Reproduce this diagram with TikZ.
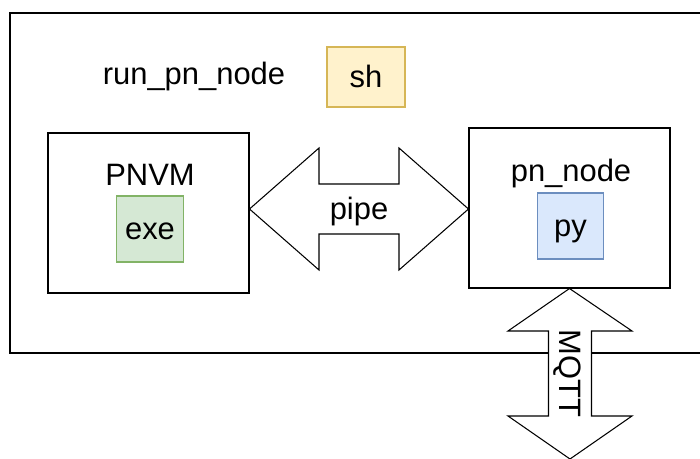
\documentclass[tikz,border=0pt]{standalone}
\usepackage{fontspec}
\setmainfont{Liberation Sans}
\usetikzlibrary{calc}
\definecolor{shfill}{HTML}{FFF2CC}
\definecolor{shdraw}{HTML}{D6B656}
\definecolor{exefill}{HTML}{D5E8D4}
\definecolor{exedraw}{HTML}{82B366}
\definecolor{pyfill}{HTML}{DAE8FC}
\definecolor{pydraw}{HTML}{6C8EBF}
\begin{document}
\begin{tikzpicture}[x=0.02cm, y=-0.02cm, line width=0.6pt,
    every node/.style={font=\fontsize{17.6}{21}\selectfont, text height=15.8pt, text depth=3.5pt},
    box/.style={draw, minimum width=4.02cm, minimum height=3.2cm},
    tag/.style={draw, minimum width=1.33cm, minimum height=1.32cm}]
        \useasboundingbox (0,0) rectangle (700,459);
        \clip (0,0) rectangle (700,459);
        % run_pn_node
        \draw (10,13) rectangle (720,353);
        \node (runlabel) at (194,74) {run\_pn\_node};
        \node [draw=shdraw, fill=shfill, minimum width=1.56cm, minimum height=1.2cm] (sh) at (366,77) {sh};
        % PNVM
        \node [box] (pnvm) at (148.5,213) {};
        \node (pnvmlabel) at (150,175) {PNVM};
        \node [tag, draw=exedraw, fill=exefill] (exe) at (150,229) {exe};
        % pn_node
        \node [box] (pnnode) at (569.5,208) {};
        \node (pnnodelabel) at (571,171) {pn\_node};
        \node [tag, draw=pydraw, fill=pyfill] (py) at (570.5,226) {py};
        % pipe
        \coordinate (pipemid) at (359,209);
        \draw [fill=white] (pnvm.east |- pipemid) -- ($(pipemid)+(-40,-61)$) -- ($(pipemid)+(-40,-25)$)
            -- ($(pipemid)+(40,-25)$) -- ($(pipemid)+(40,-61)$) -- (pnnode.west |- pipemid)
            -- ($(pipemid)+(40,61)$) -- ($(pipemid)+(40,25)$) -- ($(pipemid)+(-40,25)$)
            -- ($(pipemid)+(-40,61)$) -- cycle;
        \node (pipe) at (pipemid) {pipe};
        % MQTT
        \coordinate (mqttmid) at (570,373.5);
        \draw [fill=white] (pnnode.south) -- ($(mqttmid)+(62,-42.5)$) -- ($(mqttmid)+(21.5,-42.5)$)
            -- ($(mqttmid)+(21.5,42.5)$) -- ($(mqttmid)+(62,42.5)$) -- ($(mqttmid)+(0,85.5)$)
            -- ($(mqttmid)+(-62,42.5)$) -- ($(mqttmid)+(-21.5,42.5)$) -- ($(mqttmid)+(-21.5,-42.5)$)
            -- ($(mqttmid)+(-62,-42.5)$) -- cycle;
        \node [rotate=-90] (mqtt) at (mqttmid) {MQTT};
\end{tikzpicture}
\end{document}
